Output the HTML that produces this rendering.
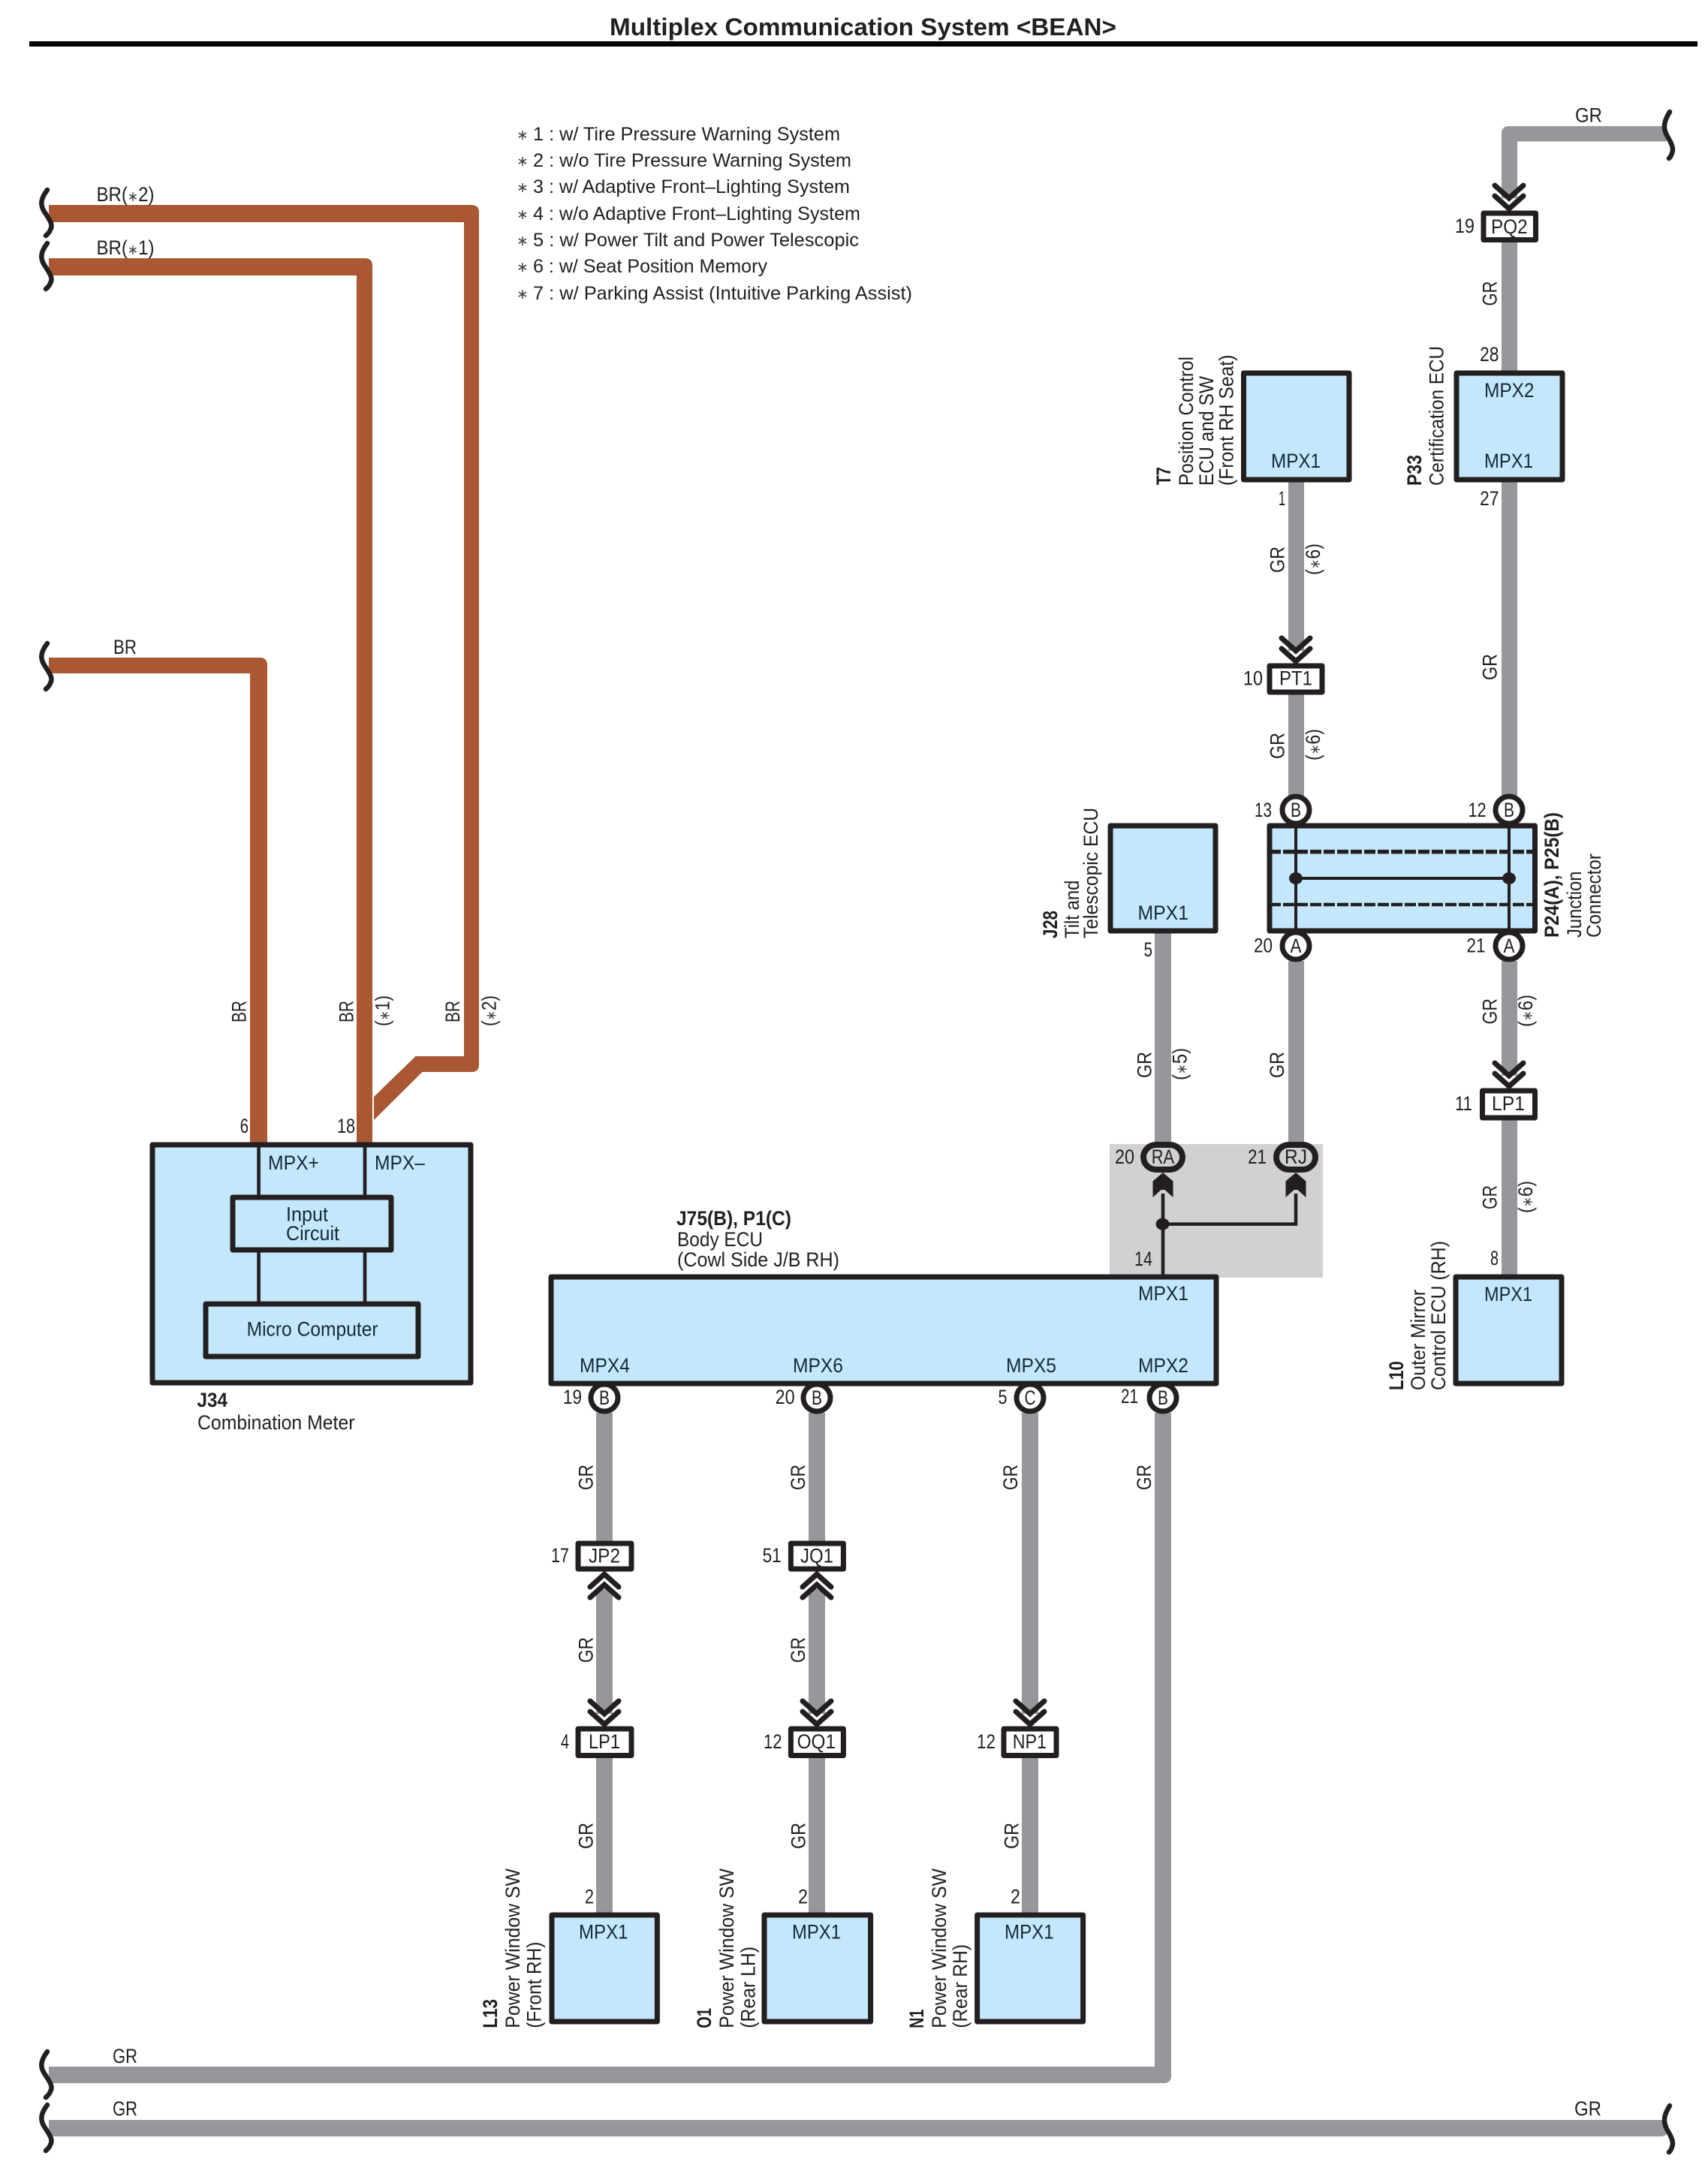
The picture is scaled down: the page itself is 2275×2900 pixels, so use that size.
<!DOCTYPE html>
<html lang="en">
<head>
<meta charset="utf-8">
<title>Multiplex Communication System &lt;BEAN&gt;</title>
<style>
html,body{margin:0;padding:0;background:#fff}
svg{display:block}
text{font-family:"Liberation Sans",sans-serif;font-size:27px;fill:#231f20}
.b{font-weight:bold}
.n{fill:#15293a}
.l{font-size:25px}
.s{font-size:19px;fill:#444}
.box{fill:#c4e7fb;stroke:#231f20;stroke-width:7;stroke-linejoin:round}
.con{fill:#fff;stroke:#231f20;stroke-width:7;stroke-linejoin:round}
.gr{fill:#95979a}
.br{fill:#a95833}
.sq{fill:none;stroke:#231f20;stroke-width:6.500;stroke-linecap:round}
.ch{fill:none;stroke:#231f20;stroke-width:7;stroke-linecap:round;stroke-linejoin:miter}
</style>
</head>
<body>
<svg xmlns="http://www.w3.org/2000/svg" width="2275" height="2900" viewBox="0 0 2275 2900">
<defs>
<g id="cd"><path class="ch" d="M-19,-34L0,-17L19,-34M-19,-20L0,-3L19,-20"/></g>
<g id="sl"><path class="sq" d="M63,3C53,16 54,24 59,32C67,44 71,50 67,56C66,60 63,62 61,64"/></g>
<g id="sr"><path class="sq" d="M8,3C0,16 -1,24 4,34C10,44 14,52 11,58C10,62 8,64 7,65"/></g>
<g id="ah"><path fill="#231f20" d="M0,0L13.500,11.500V33L2.500,23H-2.500L-13.500,33V11.500Z"/></g>
</defs>

<text class="b" x="812" y="47" style="font-size:32.500px" textLength="675" lengthAdjust="spacingAndGlyphs">Multiplex Communication System &lt;BEAN&gt;</text>
<rect x="39" y="55" width="2222" height="7" fill="#000"/>

<!-- legend -->
<text class="s" x="688" y="186">∗</text><text class="l" x="710" y="187" textLength="409" lengthAdjust="spacingAndGlyphs">1 : w/ Tire Pressure Warning System</text>
<text class="s" x="688" y="221">∗</text><text class="l" x="710" y="222" textLength="424" lengthAdjust="spacingAndGlyphs">2 : w/o Tire Pressure Warning System</text>
<text class="s" x="688" y="256">∗</text><text class="l" x="710" y="257" textLength="422" lengthAdjust="spacingAndGlyphs">3 : w/ Adaptive Front–Lighting System</text>
<text class="s" x="688" y="292">∗</text><text class="l" x="710" y="293" textLength="436" lengthAdjust="spacingAndGlyphs">4 : w/o Adaptive Front–Lighting System</text>
<text class="s" x="688" y="327">∗</text><text class="l" x="710" y="328" textLength="434" lengthAdjust="spacingAndGlyphs">5 : w/ Power Tilt and Power Telescopic</text>
<text class="s" x="688" y="362">∗</text><text class="l" x="710" y="363" textLength="312" lengthAdjust="spacingAndGlyphs">6 : w/ Seat Position Memory</text>
<text class="s" x="688" y="398">∗</text><text class="l" x="710" y="399" textLength="505" lengthAdjust="spacingAndGlyphs">7 : w/ Parking Assist (Intuitive Parking Assist)</text>

<!-- grey splice zone -->
<rect x="1478" y="1524" width="284" height="178" fill="#d0d1d3"/>

<!-- brown wires -->
<path class="br" d="M65,273H628Q638,273 638,283V1418Q638,1428 628,1428H562.500L498,1492V1461L553.600,1407H618V296H65Z"/>
<path class="br" d="M65,344H486Q496,344 496,354V1524H475V367H65Z"/>
<path class="br" d="M65,876H346Q356,876 356,886V1524H333V897H65Z"/>

<!-- grey wires -->
<path class="gr" d="M2000,264V178Q2000,168 2010,168H2220V188.500H2021V264Z"/>
<rect class="gr" x="2000" y="320" width="21" height="176"/>
<rect class="gr" x="2000" y="640" width="21" height="420"/>
<rect class="gr" x="2000" y="1280" width="21" height="153"/>
<rect class="gr" x="2000" y="1490" width="21" height="210"/>
<rect class="gr" x="1716" y="640" width="21" height="227"/>
<rect class="gr" x="1716" y="924" width="21" height="136"/>
<rect class="gr" x="1716" y="1280" width="21" height="243"/>
<rect class="gr" x="1538" y="1241" width="22" height="282"/>
<path class="gr" d="M65,2753H1538V1882H1560V2765Q1560,2775 1550,2775H65Z"/>
<path class="gr" d="M65,2824H2212Q2222,2824 2222,2834V2836Q2222,2846 2212,2846H65Z"/>
<rect class="gr" x="794" y="1882" width="22" height="173"/>
<rect class="gr" x="794" y="2117" width="22" height="166"/>
<rect class="gr" x="794" y="2339" width="22" height="211"/>
<rect class="gr" x="1077" y="1882" width="22" height="173"/>
<rect class="gr" x="1077" y="2117" width="22" height="166"/>
<rect class="gr" x="1077" y="2339" width="22" height="211"/>
<rect class="gr" x="1361" y="1882" width="22" height="401"/>
<rect class="gr" x="1361" y="2339" width="22" height="211"/>

<!-- break marks -->
<use href="#sl" transform="translate(0,250)"/>
<use href="#sl" transform="translate(0,321)"/>
<use href="#sl" transform="translate(0,854)"/>
<use href="#sl" transform="translate(0,2730)"/>
<use href="#sl" transform="translate(0,2801)"/>
<use href="#sr" transform="translate(2216,146)"/>
<use href="#sr" transform="translate(2216,2802)"/>

<!-- wire colour labels (horizontal) -->
<text x="128.500" y="268" textLength="77" lengthAdjust="spacingAndGlyphs">BR(<tspan class="s">∗</tspan>2)</text>
<text x="128.500" y="339" textLength="77" lengthAdjust="spacingAndGlyphs">BR(<tspan class="s">∗</tspan>1)</text>
<text x="151" y="871" textLength="31" lengthAdjust="spacingAndGlyphs">BR</text>
<text x="150" y="2748" textLength="33" lengthAdjust="spacingAndGlyphs">GR</text>
<text x="150" y="2818" textLength="33" lengthAdjust="spacingAndGlyphs">GR</text>
<text x="2097" y="2818" textLength="36" lengthAdjust="spacingAndGlyphs">GR</text>
<text x="2098" y="162.500" textLength="36" lengthAdjust="spacingAndGlyphs">GR</text>

<!-- J34 -->
<rect class="box" x="203" y="1525" width="424" height="317"/>
<rect x="342.300" y="1525" width="4.600" height="67" fill="#231f20"/>
<rect x="483.700" y="1525" width="4.600" height="67" fill="#231f20"/>
<rect x="342.300" y="1668" width="4.600" height="66" fill="#231f20"/>
<rect x="483.700" y="1668" width="4.600" height="66" fill="#231f20"/>
<rect class="box" x="310" y="1595" width="211" height="70"/>
<rect class="box" x="274" y="1737" width="283" height="70"/>
<text class="n" x="357" y="1558" textLength="68" lengthAdjust="spacingAndGlyphs">MPX+</text>
<text class="n" x="499" y="1558" textLength="67" lengthAdjust="spacingAndGlyphs">MPX–</text>
<text class="n" x="381" y="1626.500" textLength="56" lengthAdjust="spacingAndGlyphs">Input</text>
<text class="n" x="381" y="1652" textLength="71" lengthAdjust="spacingAndGlyphs">Circuit</text>
<text class="n" x="328.600" y="1779.600" textLength="175" lengthAdjust="spacingAndGlyphs">Micro Computer</text>
<text class="b" x="262.500" y="1874" textLength="40.500" lengthAdjust="spacingAndGlyphs">J34</text>
<text x="263" y="1904" textLength="209.500" lengthAdjust="spacingAndGlyphs">Combination Meter</text>
<text x="319.600" y="1509" textLength="11.500" lengthAdjust="spacingAndGlyphs">6</text>
<text x="449" y="1509" textLength="24" lengthAdjust="spacingAndGlyphs">18</text>
<text transform="translate(327.500,1362) rotate(-90)" textLength="29" lengthAdjust="spacingAndGlyphs">BR</text>
<text transform="translate(470.500,1362) rotate(-90)" textLength="29" lengthAdjust="spacingAndGlyphs">BR</text>
<text transform="translate(612,1362) rotate(-90)" textLength="29" lengthAdjust="spacingAndGlyphs">BR</text>
<text transform="translate(518.400,1367) rotate(-90)" textLength="41" lengthAdjust="spacingAndGlyphs">(<tspan class="s">∗</tspan>1)</text>
<text transform="translate(660.600,1367) rotate(-90)" textLength="41" lengthAdjust="spacingAndGlyphs">(<tspan class="s">∗</tspan>2)</text>

<!-- T7 -->
<rect class="box" x="1656.500" y="497" width="140.500" height="142"/>
<text class="n" x="1693" y="623" textLength="66" lengthAdjust="spacingAndGlyphs">MPX1</text>
<text class="b" transform="translate(1559,646) rotate(-90)" textLength="24" lengthAdjust="spacingAndGlyphs">T7</text>
<text transform="translate(1589,647) rotate(-90)" textLength="172" lengthAdjust="spacingAndGlyphs">Position Control</text>
<text transform="translate(1616,647) rotate(-90)" textLength="146" lengthAdjust="spacingAndGlyphs">ECU and SW</text>
<text transform="translate(1642.500,647) rotate(-90)" textLength="174.500" lengthAdjust="spacingAndGlyphs">(Front RH Seat)</text>
<text x="1703" y="673" textLength="9" lengthAdjust="spacingAndGlyphs">1</text>
<text transform="translate(1710.500,763) rotate(-90)" textLength="35" lengthAdjust="spacingAndGlyphs">GR</text>
<text transform="translate(1758,766) rotate(-90)" textLength="42" lengthAdjust="spacingAndGlyphs">(<tspan class="s">∗</tspan>6)</text>

<!-- PT1 -->
<use href="#cd" transform="translate(1726,884)"/>
<rect class="con" x="1691" y="887" width="70" height="35"/>
<text x="1704" y="912.500" textLength="44" lengthAdjust="spacingAndGlyphs">PT1</text>
<text x="1656" y="912.500" textLength="26" lengthAdjust="spacingAndGlyphs">10</text>
<text transform="translate(1710.500,1011) rotate(-90)" textLength="35" lengthAdjust="spacingAndGlyphs">GR</text>
<text transform="translate(1758,1013) rotate(-90)" textLength="42" lengthAdjust="spacingAndGlyphs">(<tspan class="s">∗</tspan>6)</text>

<!-- PQ2 / P33 -->
<use href="#cd" transform="translate(2010,281)"/>
<rect class="con" x="1976" y="284" width="69.500" height="35.500"/>
<text x="1986" y="311" textLength="48.600" lengthAdjust="spacingAndGlyphs">PQ2</text>
<text x="1938" y="310" textLength="26" lengthAdjust="spacingAndGlyphs">19</text>
<text transform="translate(1993.500,407.500) rotate(-90)" textLength="33" lengthAdjust="spacingAndGlyphs">GR</text>
<text x="1971" y="481" textLength="25.500" lengthAdjust="spacingAndGlyphs">28</text>
<rect class="box" x="1940" y="497" width="141" height="142"/>
<text class="n" x="1977" y="529" textLength="66.500" lengthAdjust="spacingAndGlyphs">MPX2</text>
<text class="n" x="1977" y="623" textLength="65" lengthAdjust="spacingAndGlyphs">MPX1</text>
<text x="1971" y="673" textLength="25.500" lengthAdjust="spacingAndGlyphs">27</text>
<text class="b" transform="translate(1893,647) rotate(-90)" textLength="41" lengthAdjust="spacingAndGlyphs">P33</text>
<text transform="translate(1922.500,647) rotate(-90)" textLength="186" lengthAdjust="spacingAndGlyphs">Certification ECU</text>
<text transform="translate(1993.500,906) rotate(-90)" textLength="35" lengthAdjust="spacingAndGlyphs">GR</text>

<!-- P24 / P25 -->
<rect class="box" x="1691" y="1100" width="353.500" height="140"/>
<line x1="1691" x2="2045" y1="1134.600" y2="1134.600" stroke="#231f20" stroke-width="5.500" stroke-dasharray="15 3"/>
<line x1="1691" x2="2045" y1="1205" y2="1205" stroke="#231f20" stroke-width="4.500" stroke-dasharray="15 3"/>
<rect x="1724" y="1100" width="4" height="140" fill="#231f20"/>
<rect x="2008" y="1100" width="4" height="140" fill="#231f20"/>
<rect x="1726" y="1168" width="284" height="4" fill="#231f20"/>
<ellipse cx="1726" cy="1170" rx="9" ry="8" fill="#231f20"/>
<ellipse cx="2010" cy="1170" rx="9" ry="8" fill="#231f20"/>
<circle class="con" cx="1726" cy="1079" r="18"/>
<circle class="con" cx="2010" cy="1079" r="18"/>
<circle class="con" cx="1726" cy="1260" r="18"/>
<circle class="con" cx="2010" cy="1260" r="18"/>
<text x="1726" y="1088" text-anchor="middle" textLength="14" lengthAdjust="spacingAndGlyphs">B</text>
<text x="2010" y="1088" text-anchor="middle" textLength="14" lengthAdjust="spacingAndGlyphs">B</text>
<text x="1726" y="1269" text-anchor="middle" textLength="15" lengthAdjust="spacingAndGlyphs">A</text>
<text x="2010" y="1269" text-anchor="middle" textLength="15" lengthAdjust="spacingAndGlyphs">A</text>
<text x="1671" y="1088" textLength="23" lengthAdjust="spacingAndGlyphs">13</text>
<text x="1955.600" y="1088" textLength="24" lengthAdjust="spacingAndGlyphs">12</text>
<text x="1670" y="1268.600" textLength="25" lengthAdjust="spacingAndGlyphs">20</text>
<text x="1953.500" y="1268.600" textLength="25" lengthAdjust="spacingAndGlyphs">21</text>
<text class="b" transform="translate(2076,1249) rotate(-90)" textLength="167" lengthAdjust="spacingAndGlyphs">P24(A), P25(B)</text>
<text transform="translate(2106,1249) rotate(-90)" textLength="88.500" lengthAdjust="spacingAndGlyphs">Junction</text>
<text transform="translate(2132,1249) rotate(-90)" textLength="112" lengthAdjust="spacingAndGlyphs">Connector</text>

<!-- J28 -->
<rect class="box" x="1479" y="1100" width="140" height="140"/>
<text class="n" x="1515.500" y="1225" textLength="67.500" lengthAdjust="spacingAndGlyphs">MPX1</text>
<text class="b" transform="translate(1408,1250) rotate(-90)" textLength="37" lengthAdjust="spacingAndGlyphs">J28</text>
<text transform="translate(1437,1250) rotate(-90)" textLength="77.400" lengthAdjust="spacingAndGlyphs">Tilt and</text>
<text transform="translate(1462,1250) rotate(-90)" textLength="174" lengthAdjust="spacingAndGlyphs">Telescopic ECU</text>
<text x="1523.500" y="1274" textLength="11.500" lengthAdjust="spacingAndGlyphs">5</text>
<text transform="translate(1533.500,1436) rotate(-90)" textLength="35" lengthAdjust="spacingAndGlyphs">GR</text>
<text transform="translate(1580.700,1439) rotate(-90)" textLength="43" lengthAdjust="spacingAndGlyphs">(<tspan class="s">∗</tspan>5)</text>
<text transform="translate(1710,1436) rotate(-90)" textLength="35" lengthAdjust="spacingAndGlyphs">GR</text>
<text transform="translate(1993.500,1364.500) rotate(-90)" textLength="34.500" lengthAdjust="spacingAndGlyphs">GR</text>
<text transform="translate(2041,1368) rotate(-90)" textLength="43" lengthAdjust="spacingAndGlyphs">(<tspan class="s">∗</tspan>6)</text>

<!-- RA / RJ splice -->
<rect x="1546.700" y="1590" width="4.600" height="110" fill="#231f20"/>
<path d="M1549,1630.600H1726V1590" fill="none" stroke="#231f20" stroke-width="4.500"/>
<ellipse cx="1548.500" cy="1630.600" rx="9" ry="8" fill="#231f20"/>
<rect class="con" x="1523" y="1525" width="52" height="33" rx="17" ry="16.500" style="fill:#d0d1d3;stroke-width:8"/>
<rect class="con" x="1700" y="1525" width="52" height="33" rx="17" ry="16.500" style="fill:#d0d1d3;stroke-width:8"/>
<use href="#ah" transform="translate(1549,1562)"/>
<use href="#ah" transform="translate(1726,1562)"/>
<text x="1533.700" y="1550" textLength="30.300" lengthAdjust="spacingAndGlyphs">RA</text>
<text x="1711" y="1550" textLength="30" lengthAdjust="spacingAndGlyphs">RJ</text>
<text x="1485" y="1550" textLength="26" lengthAdjust="spacingAndGlyphs">20</text>
<text x="1662" y="1550" textLength="25" lengthAdjust="spacingAndGlyphs">21</text>
<text x="1511" y="1686" textLength="24" lengthAdjust="spacingAndGlyphs">14</text>

<!-- LP1 right / L10 -->
<use href="#cd" transform="translate(2010,1450)"/>
<rect class="con" x="1974.500" y="1453" width="70" height="36"/>
<text x="1987" y="1479" textLength="44" lengthAdjust="spacingAndGlyphs">LP1</text>
<text x="1938" y="1479" textLength="23" lengthAdjust="spacingAndGlyphs">11</text>
<text transform="translate(1993.500,1611) rotate(-90)" textLength="32" lengthAdjust="spacingAndGlyphs">GR</text>
<text transform="translate(2041,1616) rotate(-90)" textLength="43" lengthAdjust="spacingAndGlyphs">(<tspan class="s">∗</tspan>6)</text>
<text x="1985" y="1685" textLength="11" lengthAdjust="spacingAndGlyphs">8</text>
<rect class="box" x="1939" y="1701" width="141" height="142"/>
<text class="n" x="1977" y="1733" textLength="64" lengthAdjust="spacingAndGlyphs">MPX1</text>
<text class="b" transform="translate(1869,1852) rotate(-90)" textLength="39" lengthAdjust="spacingAndGlyphs">L10</text>
<text transform="translate(1898,1852) rotate(-90)" textLength="134" lengthAdjust="spacingAndGlyphs">Outer Mirror</text>
<text transform="translate(1925,1852) rotate(-90)" textLength="199" lengthAdjust="spacingAndGlyphs">Control ECU (RH)</text>

<!-- J75 -->
<rect class="box" x="734" y="1701" width="886" height="142"/>
<text class="b" x="901" y="1632" textLength="153" lengthAdjust="spacingAndGlyphs">J75(B), P1(C)</text>
<text x="902" y="1660" textLength="114" lengthAdjust="spacingAndGlyphs">Body ECU</text>
<text x="902" y="1687" textLength="216" lengthAdjust="spacingAndGlyphs">(Cowl Side J/B RH)</text>
<text class="n" x="1516" y="1732" textLength="67" lengthAdjust="spacingAndGlyphs">MPX1</text>
<text class="n" x="772" y="1828" textLength="67" lengthAdjust="spacingAndGlyphs">MPX4</text>
<text class="n" x="1056" y="1828" textLength="67" lengthAdjust="spacingAndGlyphs">MPX6</text>
<text class="n" x="1340" y="1828" textLength="67" lengthAdjust="spacingAndGlyphs">MPX5</text>
<text class="n" x="1516" y="1828" textLength="67" lengthAdjust="spacingAndGlyphs">MPX2</text>
<circle class="con" cx="805" cy="1862" r="18"/>
<circle class="con" cx="1088" cy="1862" r="18"/>
<circle class="con" cx="1372" cy="1862" r="18"/>
<circle class="con" cx="1549" cy="1862" r="18"/>
<text x="805" y="1871" text-anchor="middle" textLength="14" lengthAdjust="spacingAndGlyphs">B</text>
<text x="1088" y="1871" text-anchor="middle" textLength="14" lengthAdjust="spacingAndGlyphs">B</text>
<text x="1372" y="1871" text-anchor="middle" textLength="15" lengthAdjust="spacingAndGlyphs">C</text>
<text x="1549" y="1871" text-anchor="middle" textLength="14" lengthAdjust="spacingAndGlyphs">B</text>
<text x="750" y="1870" textLength="25" lengthAdjust="spacingAndGlyphs">19</text>
<text x="1032.600" y="1870" textLength="26" lengthAdjust="spacingAndGlyphs">20</text>
<text x="1329.500" y="1870" textLength="12" lengthAdjust="spacingAndGlyphs">5</text>
<text x="1493" y="1869" textLength="23" lengthAdjust="spacingAndGlyphs">21</text>
<text transform="translate(789.500,1985) rotate(-90)" textLength="34" lengthAdjust="spacingAndGlyphs">GR</text>
<text transform="translate(1071.800,1985) rotate(-90)" textLength="34" lengthAdjust="spacingAndGlyphs">GR</text>
<text transform="translate(1355,1985) rotate(-90)" textLength="34" lengthAdjust="spacingAndGlyphs">GR</text>
<text transform="translate(1533,1985) rotate(-90)" textLength="34" lengthAdjust="spacingAndGlyphs">GR</text>

<!-- JP2 / JQ1 -->
<rect class="con" x="770" y="2056" width="71" height="34"/>
<rect class="con" x="1053.400" y="2056" width="70" height="34"/>
<text x="784" y="2081.700" textLength="42" lengthAdjust="spacingAndGlyphs">JP2</text>
<text x="1066" y="2081.700" textLength="44" lengthAdjust="spacingAndGlyphs">JQ1</text>
<text x="734" y="2081" textLength="24" lengthAdjust="spacingAndGlyphs">17</text>
<text x="1015.600" y="2081" textLength="25" lengthAdjust="spacingAndGlyphs">51</text>
<use href="#cd" transform="translate(805,2094) scale(1,-1)"/>
<use href="#cd" transform="translate(1088,2094) scale(1,-1)"/>
<text transform="translate(789.500,2215) rotate(-90)" textLength="34" lengthAdjust="spacingAndGlyphs">GR</text>
<text transform="translate(1071.800,2215) rotate(-90)" textLength="34" lengthAdjust="spacingAndGlyphs">GR</text>

<!-- LP1 / OQ1 / NP1 -->
<use href="#cd" transform="translate(805,2300)"/>
<use href="#cd" transform="translate(1088,2300)"/>
<use href="#cd" transform="translate(1372,2300)"/>
<rect class="con" x="770" y="2303" width="71" height="35.500"/>
<rect class="con" x="1053.400" y="2303" width="70" height="35.500"/>
<rect class="con" x="1337" y="2303" width="70" height="35.500"/>
<text x="784" y="2329" textLength="42" lengthAdjust="spacingAndGlyphs">LP1</text>
<text x="1061.600" y="2329" textLength="51.400" lengthAdjust="spacingAndGlyphs">OQ1</text>
<text x="1348.700" y="2329" textLength="45.300" lengthAdjust="spacingAndGlyphs">NP1</text>
<text x="747" y="2329" textLength="11" lengthAdjust="spacingAndGlyphs">4</text>
<text x="1017" y="2329" textLength="24.500" lengthAdjust="spacingAndGlyphs">12</text>
<text x="1301" y="2329" textLength="25" lengthAdjust="spacingAndGlyphs">12</text>
<text transform="translate(789.500,2463) rotate(-90)" textLength="35" lengthAdjust="spacingAndGlyphs">GR</text>
<text transform="translate(1072.500,2463) rotate(-90)" textLength="35" lengthAdjust="spacingAndGlyphs">GR</text>
<text transform="translate(1356.500,2463) rotate(-90)" textLength="35" lengthAdjust="spacingAndGlyphs">GR</text>
<text x="779" y="2535.700" textLength="12" lengthAdjust="spacingAndGlyphs">2</text>
<text x="1063" y="2535.700" textLength="13" lengthAdjust="spacingAndGlyphs">2</text>
<text x="1346" y="2535.700" textLength="13" lengthAdjust="spacingAndGlyphs">2</text>

<!-- L13 / O1 / N1 -->
<rect class="box" x="735" y="2551" width="140.400" height="142"/>
<rect class="box" x="1018" y="2551" width="141.600" height="142"/>
<rect class="box" x="1301.600" y="2551" width="141" height="142"/>
<text class="n" x="771" y="2582.700" textLength="65.500" lengthAdjust="spacingAndGlyphs">MPX1</text>
<text class="n" x="1055" y="2582.700" textLength="65" lengthAdjust="spacingAndGlyphs">MPX1</text>
<text class="n" x="1338" y="2582.700" textLength="65.600" lengthAdjust="spacingAndGlyphs">MPX1</text>
<text class="b" transform="translate(662,2701.700) rotate(-90)" textLength="38.700" lengthAdjust="spacingAndGlyphs">L13</text>
<text transform="translate(692,2701.700) rotate(-90)" textLength="212.700" lengthAdjust="spacingAndGlyphs">Power Window SW</text>
<text transform="translate(720.700,2701.700) rotate(-90)" textLength="115" lengthAdjust="spacingAndGlyphs">(Front RH)</text>
<text class="b" transform="translate(947,2701.700) rotate(-90)" textLength="26.700" lengthAdjust="spacingAndGlyphs">O1</text>
<text transform="translate(977,2701.700) rotate(-90)" textLength="212.700" lengthAdjust="spacingAndGlyphs">Power Window SW</text>
<text transform="translate(1005.400,2701.700) rotate(-90)" textLength="108.700" lengthAdjust="spacingAndGlyphs">(Rear LH)</text>
<text class="b" transform="translate(1230,2701.700) rotate(-90)" textLength="25" lengthAdjust="spacingAndGlyphs">N1</text>
<text transform="translate(1260,2701.700) rotate(-90)" textLength="212.700" lengthAdjust="spacingAndGlyphs">Power Window SW</text>
<text transform="translate(1288,2701.700) rotate(-90)" textLength="111.700" lengthAdjust="spacingAndGlyphs">(Rear RH)</text>
</svg>
</body>
</html>
